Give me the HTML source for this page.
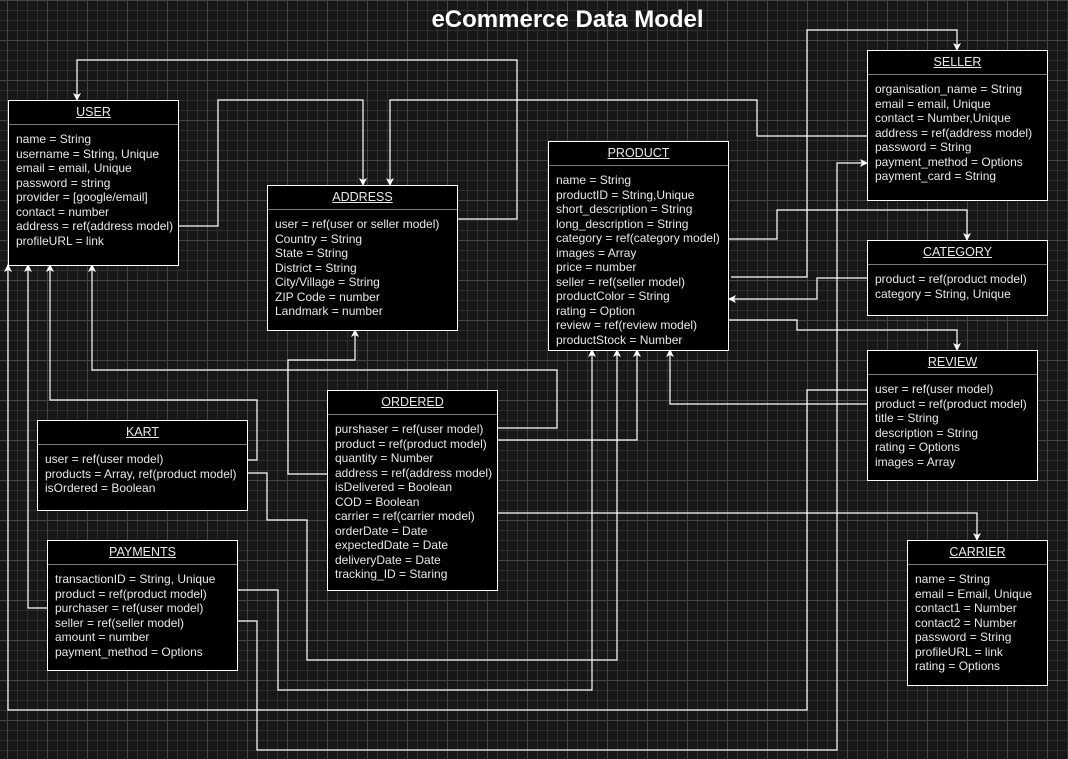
<!DOCTYPE html>
<html><head><meta charset="utf-8"><style>
html,body{margin:0;padding:0}
body{width:1068px;height:759px;position:relative;overflow:hidden;background-color:#171717;
background-image:linear-gradient(#454545 1px,transparent 1px),linear-gradient(90deg,#454545 1px,transparent 1px),linear-gradient(#2e2e2e 1px,transparent 1px),linear-gradient(90deg,#2e2e2e 1px,transparent 1px);
background-size:40px 40px,40px 40px,10px 10px,10px 10px;background-position:-2px 0,7px 0,-2px 0,7px 0;
font-family:"Liberation Sans",Arial,sans-serif;}
svg{position:absolute;left:0;top:0}
.b{position:absolute;background:#000;border:1px solid #fff;box-sizing:border-box;color:#e8e8e8;font-size:12px}
.t{height:23px;line-height:22px;border-bottom:1px solid #777;text-align:center;text-decoration:underline;font-size:12.5px}
.c{padding:7px 0 0 7px;line-height:14.5px;white-space:nowrap}
h1{position:absolute;left:0;width:1135px;top:6px;margin:0;text-align:center;color:#fff;font-size:24px;font-weight:bold}
</style></head><body>
<h1>eCommerce Data Model</h1>
<svg width="1068" height="759">
<defs><marker id="a" markerWidth="8" markerHeight="8" refX="7" refY="4" orient="auto" markerUnits="userSpaceOnUse"><path d="M0,0 L8,4 L0,8 L2,4 z" fill="#fff"/></marker></defs>
<g fill="none" stroke="#fff" stroke-width="1.2" marker-end="url(#a)">
<polyline points="178,226 218,226 218,100 363,100 363,185"/>
<polyline points="457,219 517,219 517,60 77,60 77,100"/>
<polyline points="867,136 757,136 757,100 390,100 390,185"/>
<polyline points="731,277 807,277 807,30 957,30 957,50"/>
<polyline points="729,239 777,239 777,210 967,210 967,240"/>
<polyline points="867,278 817,278 817,299 729,299"/>
<polyline points="728,320 797,320 797,330 957,330 957,350"/>
<polyline points="867,390 807,390 807,710 8,710 8,265"/>
<polyline points="867,404 670,404 670,350"/>
<polyline points="497,428 557,428 557,370 92,370 92,265"/>
<polyline points="168,460 257,460 257,400 50,400 50,265"/>
<polyline points="327,474 288,474 288,360 355,360 355,330"/>
<polyline points="237,473 267,473 267,520 307,520 307,660 617,660 617,350"/>
<polyline points="497,440 637,440 637,350"/>
<polyline points="497,513 977,513 977,540"/>
<polyline points="218,590 278,590 278,690 592,690 592,350"/>
<polyline points="57,608 28,608 28,265"/>
<polyline points="197,621 257,621 257,750 837,750 837,163 867,163"/>
</g></svg>

<div class="b" style="left:8px;top:100px;width:171px;height:166px"><div class="t">USER</div><div class="c">name = String<br>username = String, Unique<br>email = email, Unique<br>password = string<br>provider = [google/email]<br>contact = number<br>address = ref(address model)<br>profileURL = link</div></div>

<div class="b" style="left:267px;top:185px;width:191px;height:146px"><div class="t">ADDRESS</div><div class="c">user = ref(user or seller model)<br>Country = String<br>State = String<br>District = String<br>City/Village = String<br>ZIP Code = number<br>Landmark = number</div></div>

<div class="b" style="left:548px;top:141px;width:181px;height:210px"><div class="t">PRODUCT</div><div class="c">name = String<br>productID = String,Unique<br>short_description = String<br>long_description = String<br>category = ref(category model)<br>images = Array<br>price = number<br>seller = ref(seller model)<br>productColor = String<br>rating = Option<br>review = ref(review model)<br>productStock = Number</div></div>

<div class="b" style="left:867px;top:50px;width:181px;height:151px"><div class="t">SELLER</div><div class="c">organisation_name = String<br>email = email, Unique<br>contact = Number,Unique<br>address = ref(address model)<br>password = String<br>payment_method = Options<br>payment_card = String</div></div>

<div class="b" style="left:867px;top:240px;width:181px;height:76px"><div class="t">CATEGORY</div><div class="c">product = ref(product model)<br>category = String, Unique</div></div>

<div class="b" style="left:867px;top:350px;width:171px;height:131px"><div class="t">REVIEW</div><div class="c">user = ref(user model)<br>product = ref(product model)<br>title = String<br>description = String<br>rating = Options<br>images = Array</div></div>

<div class="b" style="left:907px;top:540px;width:141px;height:146px"><div class="t">CARRIER</div><div class="c">name = String<br>email = Email, Unique<br>contact1 = Number<br>contact2 = Number<br>password = String<br>profileURL = link<br>rating = Options</div></div>

<div class="b" style="left:327px;top:390px;width:171px;height:201px"><div class="t">ORDERED</div><div class="c">purshaser = ref(user model)<br>product = ref(product model)<br>quantity = Number<br>address = ref(address model)<br>isDelivered = Boolean<br>COD = Boolean<br>carrier = ref(carrier model)<br>orderDate = Date<br>expectedDate = Date<br>deliveryDate = Date<br>tracking_ID = Staring</div></div>

<div class="b" style="left:37px;top:420px;width:211px;height:91px"><div class="t">KART</div><div class="c">user = ref(user model)<br>products = Array, ref(product model)<br>isOrdered = Boolean</div></div>

<div class="b" style="left:47px;top:540px;width:191px;height:131px"><div class="t">PAYMENTS</div><div class="c">transactionID = String, Unique<br>product = ref(product model)<br>purchaser = ref(user model)<br>seller = ref(seller model)<br>amount = number<br>payment_method = Options</div></div>
</body></html>
